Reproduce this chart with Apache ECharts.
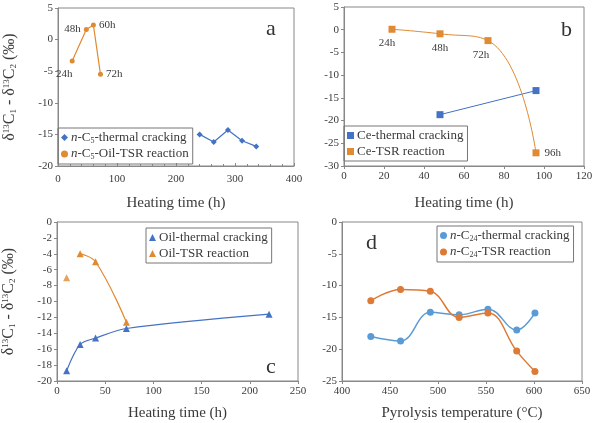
<!DOCTYPE html>
<html>
<head>
<meta charset="utf-8">
<script src="https://cdn.jsdelivr.net/npm/echarts@6/dist/echarts.min.js"></script>
<style>
html,body{margin:0;padding:0;background:#fff;}
#main{width:599px;height:423px;}
</style>
</head>
<body>
<div id="main"></div>
<script>
// panel a - n-C5
const aThermX = [240, 264, 288, 312, 336];
const aThermY = [-15, -16.2, -14.3, -16, -16.9];
const aTsrX = [24, 48, 60, 72];
const aTsrY = [-3.4, 1.6, 2.3, -5.5];
const aTsrLabels = ['24h', '48h', '60h', '72h'];

// panel b - Ce
const bThermX = [48, 96];
const bThermY = [-18.7, -13.4];
const bTsrX = [24, 48, 72, 96];
const bTsrY = [0.1, -0.9, -2.4, -27.1];
const bTsrLabels = ['24h', '48h', '72h', '96h'];

// panel c - oil
const cThermX = [10, 24, 40, 72, 220];
const cThermY = [-18.7, -15.4, -14.6, -13.4, -11.6];
const cTsrX = [10, 24, 40, 72];
const cTsrY = [-7, -4, -5, -12.6];

// panel d - n-C24
const dTemp = [430, 461, 492, 522, 552, 582, 601];
const dThermY = [-18, -18.7, -14.2, -14.6, -13.7, -17, -14.3];
const dTsrY = [-12.4, -10.6, -10.9, -15, -14.3, -20.3, -23.5];

const BLUE = '#4472C4', ORANGE = '#E08A32', BLUE_D = '#5B9BD5', ORANGE_D = '#DD7A35';
const FONT = 'Liberation Serif';
const TXT = '#3a3a3a';

function pts(xs, ys) { return xs.map((x, i) => [x, ys[i]]); }

const richT = {
  it: {fontStyle: 'italic', fontFamily: FONT, fontSize: 13, color: TXT},
  sub: {fontSize: 8, fontFamily: FONT, color: TXT, verticalAlign: 'bottom', padding: [6, 0, 0, 0]},
  sup: {fontSize: 8, fontFamily: FONT, color: TXT, verticalAlign: 'top', padding: [0, 0, 6, 0]}
};

function xAx(idx, min, max, interval, name) {
  return {
    gridIndex: idx, type: 'value', min: min, max: max, interval: interval,
    name: name, nameLocation: 'middle', nameGap: idx < 2 ? 30 : 25,
    nameTextStyle: {fontFamily: FONT, fontSize: 15, color: TXT},
    axisLine: {onZero: false, lineStyle: {color: '#888'}},
    axisTick: {length: 3, inside: idx === 0, lineStyle: {color: '#888'}},
    minorTick: {show: idx === 0, splitNumber: 5, length: 2, lineStyle: {color: '#888'}},
    axisLabel: {fontFamily: FONT, fontSize: 11, color: TXT, margin: idx === 0 ? 8 : 5},
    splitLine: {show: false}
  };
}
const yTitle = 'δ{sup|13}C{sub|1} - δ{sup|13}C{sub|2} (‰)';
function yAx(idx, min, max, interval, withName) {
  return {
    gridIndex: idx, type: 'value', min: min, max: max, interval: interval,
    name: withName ? yTitle : '', nameLocation: 'middle', nameRotate: 90, nameGap: 40,
    nameTextStyle: {fontFamily: FONT, fontSize: 16, color: TXT, rich: {
      sup: {fontSize: 9, fontFamily: FONT, color: TXT, verticalAlign: 'top'},
      sub: {fontSize: 9, fontFamily: FONT, color: TXT, verticalAlign: 'bottom'}
    }},
    axisLine: {show: true, onZero: false, lineStyle: {color: '#888'}},
    axisTick: {show: true, length: 3, lineStyle: {color: '#888'}},
    axisLabel: {fontFamily: FONT, fontSize: 11, color: TXT, margin: 5},
    splitLine: {show: false}
  };
}

function lbl(pos, off) {
  return {show: true, position: pos, offset: off || [0, 0], fontFamily: FONT, fontSize: 11, color: TXT, distance: 3};
}
const aLabelCfg = [lbl('bottom', [-8, 2]), lbl('left'), lbl('right'), lbl('right')];
const bLabelCfg = [lbl('bottom', [-5, 2]), lbl('bottom', [0, 2]), lbl('bottom', [-7, 2]), lbl('right', [2, 0])];

function legendBox(idx, pos, items) {
  return Object.assign({
    orient: 'vertical', itemWidth: 7, itemHeight: 7, itemGap: 3,
    borderColor: '#777', borderWidth: 1, padding: [3, 4, 3, 3], borderRadius: 0,
    textStyle: {fontFamily: FONT, fontSize: 13, color: TXT, padding: [0, 0, 0, -2], rich: richT},
    data: items
  }, pos);
}

const option = {
  backgroundColor: '#fff',
  animation: false,
  grid: [
    {left: 58, top: 8, width: 236, height: 158, show: true, borderColor: '#888', borderWidth: 1},
    {left: 344, top: 7, width: 240, height: 159, show: true, borderColor: '#888', borderWidth: 1},
    {left: 57, top: 222, width: 241, height: 159, show: true, borderColor: '#888', borderWidth: 1},
    {left: 342, top: 222, width: 240, height: 159, show: true, borderColor: '#888', borderWidth: 1}
  ],
  xAxis: [
    xAx(0, 0, 400, 100, 'Heating time (h)'),
    xAx(1, 0, 120, 20, 'Heating time (h)'),
    xAx(2, 0, 250, 50, 'Heating time (h)'),
    xAx(3, 400, 650, 50, 'Pyrolysis temperature (°C)')
  ],
  yAxis: [
    yAx(0, -20, 5, 5, true),
    yAx(1, -30, 5, 5, false),
    yAx(2, -20, 0, 2, true),
    yAx(3, -25, 0, 5, false)
  ],
  legend: [
    legendBox(0, {left: 58, top: 128}, [
      {name: '{it|n}-C{sub|5}-thermal cracking', icon: 'diamond'},
      {name: '{it|n}-C{sub|5}-Oil-TSR reaction', icon: 'circle'}
    ]),
    legendBox(1, {left: 344, top: 126}, [
      {name: 'Ce-thermal cracking', icon: 'rect'},
      {name: 'Ce-TSR reaction', icon: 'rect'}
    ]),
    legendBox(2, {left: 146, top: 228}, [
      {name: 'Oil-thermal cracking', icon: 'triangle'},
      {name: 'Oil-TSR reaction', icon: 'triangle'}
    ]),
    legendBox(3, {left: 437, top: 226}, [
      {name: '{it|n}-C{sub|24}-thermal cracking', icon: 'circle'},
      {name: '{it|n}-C{sub|24}-TSR reaction', icon: 'circle'}
    ])
  ],
  series: [
    {name: '{it|n}-C{sub|5}-thermal cracking', type: 'line', xAxisIndex: 0, yAxisIndex: 0,
      data: pts(aThermX, aThermY), symbol: 'diamond', symbolSize: 6,
      itemStyle: {color: BLUE}, lineStyle: {color: BLUE, width: 1.2}},
    {name: '{it|n}-C{sub|5}-Oil-TSR reaction', type: 'line', xAxisIndex: 0, yAxisIndex: 0,
      data: aTsrX.map((x, i) => ({value: [x, aTsrY[i]], label: Object.assign({formatter: aTsrLabels[i]}, aLabelCfg[i])})),
      symbol: 'circle', symbolSize: 5,
      itemStyle: {color: ORANGE}, lineStyle: {color: ORANGE, width: 1.2}},

    {name: 'Ce-thermal cracking', type: 'line', xAxisIndex: 1, yAxisIndex: 1,
      data: pts(bThermX, bThermY), symbol: 'rect', symbolSize: 7,
      itemStyle: {color: BLUE}, lineStyle: {color: BLUE, width: 1}},
    {name: 'Ce-TSR reaction', type: 'line', xAxisIndex: 1, yAxisIndex: 1, smooth: 0.5,
      data: bTsrX.map((x, i) => ({value: [x, bTsrY[i]], label: Object.assign({formatter: bTsrLabels[i]}, bLabelCfg[i])})),
      symbol: 'rect', symbolSize: 7,
      itemStyle: {color: ORANGE}, lineStyle: {color: ORANGE, width: 1}},

    {name: 'Oil-thermal cracking', type: 'line', xAxisIndex: 2, yAxisIndex: 2, smooth: 0.3,
      data: pts(cThermX, cThermY), symbol: 'triangle', symbolSize: 7,
      itemStyle: {color: BLUE}, lineStyle: {color: BLUE, width: 1.2}},
    {name: 'Oil-TSR reaction', type: 'line', xAxisIndex: 2, yAxisIndex: 2, smooth: 0.4,
      data: pts(cTsrX.slice(1), cTsrY.slice(1)), symbol: 'triangle', symbolSize: 7,
      itemStyle: {color: ORANGE}, lineStyle: {color: ORANGE, width: 1.2}},
    {name: 'Oil-TSR reaction', type: 'scatter', xAxisIndex: 2, yAxisIndex: 2,
      data: pts(cTsrX.slice(0, 1), cTsrY.slice(0, 1)), symbol: 'triangle', symbolSize: 7,
      itemStyle: {color: ORANGE}},

    {name: '{it|n}-C{sub|24}-thermal cracking', type: 'line', xAxisIndex: 3, yAxisIndex: 3, smooth: 0.4,
      data: pts(dTemp, dThermY), symbol: 'circle', symbolSize: 7,
      itemStyle: {color: BLUE_D}, lineStyle: {color: BLUE_D, width: 1.5}},
    {name: '{it|n}-C{sub|24}-TSR reaction', type: 'line', xAxisIndex: 3, yAxisIndex: 3, smooth: 0.4,
      data: pts(dTemp, dTsrY), symbol: 'circle', symbolSize: 7,
      itemStyle: {color: ORANGE_D}, lineStyle: {color: ORANGE_D, width: 1.5}}
  ],
  graphic: [
    {type: 'text', left: 266, top: 18, style: {text: 'a', font: '22px "Liberation Serif"', fill: '#333'}},
    {type: 'text', left: 561, top: 19, style: {text: 'b', font: '22px "Liberation Serif"', fill: '#333'}},
    {type: 'text', left: 266, top: 356, style: {text: 'c', font: '22px "Liberation Serif"', fill: '#333'}},
    {type: 'text', left: 366, top: 232, style: {text: 'd', font: '22px "Liberation Serif"', fill: '#333'}}
  ]
};

const chart = echarts.init(document.getElementById('main'));
chart.setOption(option);
</script>
</body>
</html>
